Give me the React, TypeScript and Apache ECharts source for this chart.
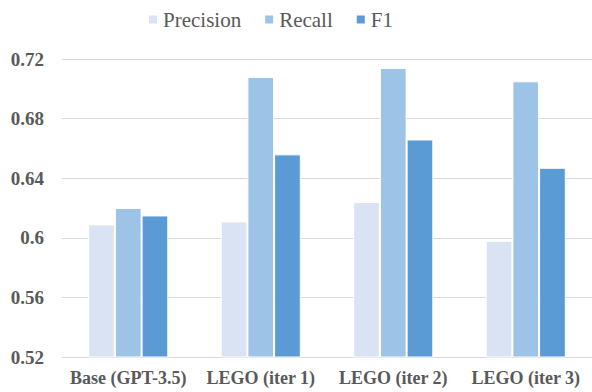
import React, { useEffect, useRef } from "react";
import * as echarts from "echarts";

const categories = ["Base (GPT-3.5)", "LEGO (iter 1)", "LEGO (iter 2)", "LEGO (iter 3)"];
const precision = [0.609, 0.611, 0.624, 0.598];
const recall = [0.62, 0.708, 0.714, 0.705];
const f1 = [0.615, 0.656, 0.666, 0.647];
const seriesNames = ["Precision", "Recall", "F1"];
const colors = ["#DAE3F3", "#9DC3E6", "#5B9BD5"];

export default function App() {
  const ref = useRef<HTMLDivElement>(null);
  useEffect(() => {
    const chart = echarts.init(ref.current!, undefined, { renderer: "svg" });
    const font = "Liberation Serif";
    const data = [precision, recall, f1];
    chart.setOption({
      animation: false,
      textStyle: { fontFamily: font },
      legend: {
        data: seriesNames,
        top: 4,
        left: 142,
        itemWidth: 10,
        itemHeight: 10,
        itemGap: 22,
        icon: "rect",
        textStyle: { fontFamily: font, fontSize: 21, color: "#595959" },
      },
      grid: { left: 62, right: -10, top: 59, bottom: 35 },
      xAxis: {
        type: "category",
        data: categories,
        axisLine: { lineStyle: { color: "#D9D9D9", width: 1 } },
        axisTick: { show: false },
        axisLabel: { interval: 0, fontFamily: font, fontSize: 18, fontWeight: "bold", color: "#595959", margin: 12 },
      },
      yAxis: {
        type: "value",
        min: 0.52,
        max: 0.72,
        interval: 0.04,
        axisLine: { show: false },
        axisTick: { show: false },
        splitLine: { lineStyle: { color: "#D9D9D9", width: 1 } },
        axisLabel: {
          fontFamily: font,
          fontSize: 19,
          fontWeight: "bold",
          color: "#595959",
          margin: 18,
          formatter: (v: number) => String(Math.round(v * 100) / 100),
        },
      },
      series: seriesNames.map((name, i) => ({
        name,
        type: "bar",
        data: data[i],
        barWidth: 26.7,
        barGap: "0%",
        itemStyle: { color: colors[i], borderColor: "#FFFFFF", borderWidth: 1 },
      })),
    });
    return () => chart.dispose();
  }, []);
  return <div ref={ref} style={{ width: 592, height: 392, position: "absolute", left: 0, top: 0, background: "#fff" }} />;
}
